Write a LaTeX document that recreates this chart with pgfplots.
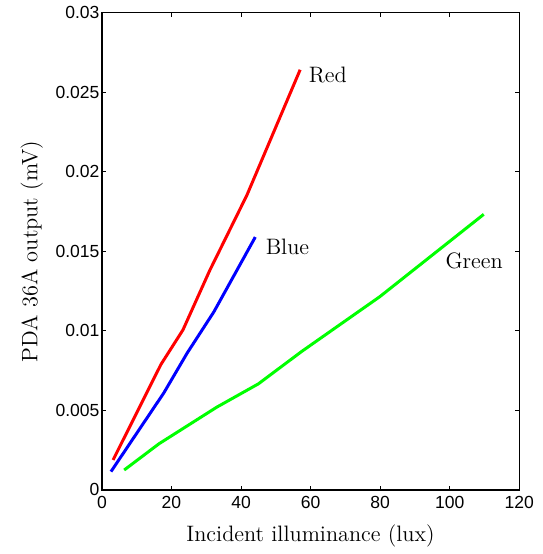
\documentclass[border=0pt]{standalone}
\usepackage{pgfplots}
\pgfplotsset{compat=1.18}
\usepackage{fontspec}
\newfontfamily\arialfont{Liberation Sans}
\definecolor{mred}{RGB}{255,0,0}
\definecolor{mblue}{RGB}{0,0,255}
\definecolor{mgreen}{RGB}{0,255,0}
\begin{document}
\begin{tikzpicture}
\begin{axis}[
  scale only axis,
  width=209.5pt, height=239.5pt,
  xmin=0, xmax=120, ymin=0, ymax=0.03,
  scaled y ticks=false, scaled x ticks=false,
  xtick={0,20,40,60,80,100,120},
  ytick={0,0.005,0.01,0.015,0.02,0.025,0.03},
  yticklabels={0,0.005,0.01,0.015,0.02,0.025,0.03},
  /pgf/number format/assume math mode=true,
  tick label style={font=\arialfont\fontsize{8.8}{10}\selectfont},
  yticklabel style={xshift=2.3pt},
  xticklabel style={yshift=0.5pt},
  tick align=inside, tick pos=both,
  major tick length=2pt,
  axis line style={line width=0.6pt},
  every tick/.style={black, line width=0.5pt},
  xlabel={Incident illuminance (lux)},
  ylabel={PDA 36A output (mV)},
  label style={font=\fontsize{11.2}{13}\selectfont},
  xlabel style={yshift=-1.5pt},
  ylabel style={yshift=-0.5pt},
  clip=false,
]
\addplot[mred, line width=1.5pt] coordinates {
(3.2,0.00188) (17,0.0079) (23.3,0.01006) (31,0.0138) (41.7,0.01854) (57,0.02642)};
\addplot[mblue, line width=1.5pt] coordinates {
(2.6,0.00115) (17.8,0.0061) (24.5,0.0086) (32.2,0.0112) (44.1,0.0159)};
\addplot[mgreen, line width=1.5pt] coordinates {
(6.4,0.00125) (16.4,0.0029) (33,0.0052) (45,0.00667) (57.4,0.0087) (79.9,0.01215) (109.8,0.01733)};
\node[anchor=west, font=\fontsize{11.2}{13}\selectfont, inner sep=0pt] at (axis cs:59.4,0.0261) {Red};
\node[anchor=west, font=\fontsize{11.2}{13}\selectfont, inner sep=0pt] at (axis cs:47,0.0153) {Blue};
\node[anchor=west, font=\fontsize{11.2}{13}\selectfont, inner sep=0pt] at (axis cs:98.7,0.01438) {Green};
\end{axis}
\path ([xshift=-7pt]current bounding box.west) ([xshift=1pt]current bounding box.east) ([yshift=0.5pt]current bounding box.south);
\end{tikzpicture}
\end{document}
